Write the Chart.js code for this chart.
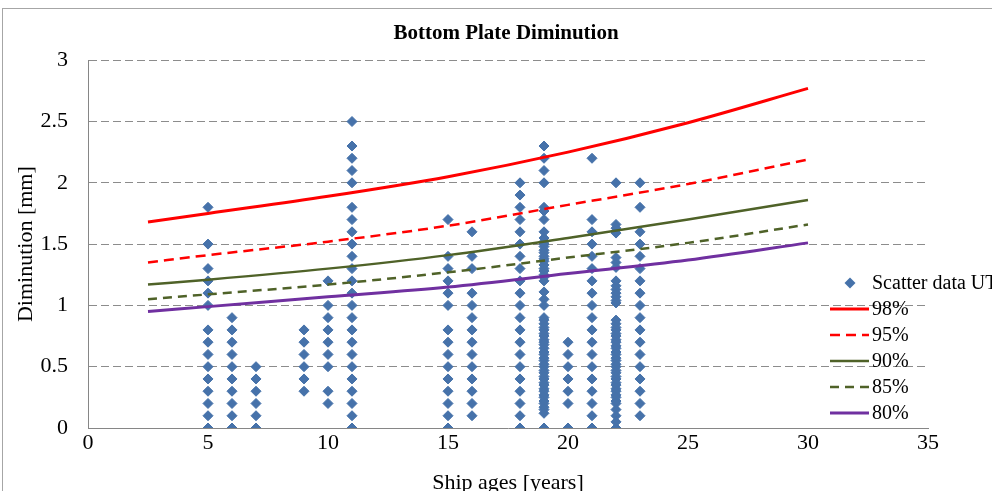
<!DOCTYPE html>
<html>
<head>
<meta charset="utf-8">
<script src="https://cdn.jsdelivr.net/npm/chart.js@4.4.1/dist/chart.umd.min.js"></script>
<style>
	html, body { margin: 0; padding: 0; background: #fff; overflow: hidden; }
	#wrap { position: relative; width: 1012px; height: 505px; }
</style>
</head>
<body>
<div id="wrap"><canvas id="chart" width="1012" height="505"></canvas></div>
<script>
// measured UT values per ship age (mm)
const scatterAges = [5, 6, 7, 9, 10, 11, 15, 16, 18, 19, 20, 21, 22, 23];
const scatterValues = [
	[1.8, 1.5, 1.3, 1.2, 1.1, 1.0, 0.8, 0.7, 0.6, 0.5, 0.4, 0.3, 0.2, 0.1, 0],
	[0.9, 0.8, 0.7, 0.6, 0.5, 0.4, 0.3, 0.2, 0.1, 0],
	[0.5, 0.4, 0.3, 0.2, 0.1, 0],
	[0.8, 0.7, 0.6, 0.5, 0.4, 0.3],
	[1.2, 1.0, 0.9, 0.8, 0.7, 0.6, 0.5, 0.3, 0.2],
	[2.5, 2.3, 2.2, 2.1, 2.0, 1.8, 1.7, 1.6, 1.5, 1.4, 1.3, 1.2, 1.1, 1.0, 0.9, 0.8, 0.7, 0.6, 0.5, 0.4, 0.3, 0.2, 0.1, 0],
	[1.7, 1.4, 1.3, 1.2, 1.1, 1.0, 0.8, 0.7, 0.6, 0.5, 0.4, 0.3, 0.2, 0.1, 0],
	[1.6, 1.4, 1.3, 1.1, 1.0, 0.9, 0.8, 0.7, 0.6, 0.5, 0.4, 0.3, 0.2, 0.1],
	[2.0, 1.9, 1.8, 1.7, 1.6, 1.5, 1.4, 1.3, 1.2, 1.1, 1.0, 0.9, 0.8, 0.7, 0.6, 0.5, 0.4, 0.3, 0.2, 0.1, 0],
	[2.3, 2.2, 2.1, 2.0, 1.8, 1.77, 1.7, 1.6, 1.55, 1.52, 1.5, 1.48, 1.45, 1.43, 1.4, 1.38, 1.36, 1.33, 1.3, 1.28, 1.25, 1.23, 1.2, 1.11, 1.05, 1.0,
		0.9, 0.88, 0.85, 0.82, 0.8, 0.77, 0.75, 0.72, 0.7, 0.68, 0.65, 0.62, 0.6, 0.57, 0.55, 0.52, 0.5, 0.47, 0.45, 0.42, 0.4, 0.37, 0.35,
		0.32, 0.3, 0.27, 0.25, 0.22, 0.2, 0.17, 0.15, 0.12, 0],
	[0.7, 0.6, 0.5, 0.4, 0.3, 0.2, 0],
	[2.2, 1.7, 1.6, 1.5, 1.4, 1.3, 1.2, 1.1, 1.0, 0.9, 0.8, 0.7, 0.6, 0.5, 0.4, 0.3, 0.2, 0.1, 0],
	[2.0, 1.66, 1.63, 1.59, 1.39, 1.35, 1.31, 1.2, 1.16, 1.13, 1.1, 1.07, 1.04, 1.02, 0.88, 0.85, 0.82, 0.8, 0.77, 0.75, 0.72, 0.7, 0.67,
		0.65, 0.62, 0.6, 0.57, 0.55, 0.52, 0.5, 0.47, 0.45, 0.42, 0.4, 0.37, 0.35, 0.32, 0.3, 0.27, 0.25, 0.22, 0.2, 0.15, 0.1, 0.05, 0],
	[2.0, 1.8, 1.6, 1.5, 1.4, 1.3, 1.2, 1.1, 1.0, 0.9, 0.8, 0.7, 0.6, 0.5, 0.4, 0.3, 0.2, 0.1],
];

const curveAges = [2.5, 5, 10, 15, 20, 25, 30];
const p98 = [1.68, 1.75, 1.89, 2.05, 2.25, 2.49, 2.77];
const p95 = [1.35, 1.41, 1.52, 1.65, 1.82, 1.99, 2.19];
const p90 = [1.17, 1.21, 1.30, 1.41, 1.55, 1.70, 1.86];
const p85 = [1.05, 1.09, 1.17, 1.27, 1.39, 1.51, 1.66];
const p80 = [0.95, 0.99, 1.07, 1.15, 1.26, 1.37, 1.51];

const yTickLabels = ['0', '0.5', '1', '1.5', '2', '2.5', '3'];
const xTickLabels = ['0', '5', '10', '15', '20', '25', '30', '35'];

const FONT = 'Liberation Serif';

const scatterPoints = [];
scatterAges.forEach((age, i) => {
	scatterValues[i].forEach(v => scatterPoints.push({x: age, y: v}));
});

function curve(label, values, color, width, dash) {
	return {
		label: label,
		data: curveAges.map((a, i) => ({x: a, y: values[i]})),
		showLine: true,
		borderColor: color,
		backgroundColor: color,
		borderWidth: width,
		borderDash: dash,
		pointRadius: 0,
		cubicInterpolationMode: 'monotone',
		order: 0,
	};
}

// frame + legend drawn by hand, legend sits over the right part of the plot
const framePlugin = {
	id: 'frame',
	beforeDraw(chart) {
		const ctx = chart.ctx;
		ctx.save();
		ctx.fillStyle = '#fff';
		ctx.fillRect(0, 0, chart.width, chart.height);
		ctx.strokeStyle = '#a6a6a6';
		ctx.lineWidth = 1;
		ctx.strokeRect(2.5, 8.5, 1100, 600);
		ctx.restore();
	},
	afterDraw(chart) {
		const ctx = chart.ctx;
		const top = 283;
		const step = 26;
		ctx.save();
		ctx.font = '20px "' + FONT + '"';
		ctx.textBaseline = 'middle';
		chart.data.datasets.forEach((ds, i) => {
			const y = top + i * step;
			if (ds.showLine) {
				ctx.strokeStyle = ds.borderColor;
				ctx.lineWidth = ds.borderWidth;
				ctx.setLineDash(ds.borderDash || []);
				ctx.beginPath();
				ctx.moveTo(830, y);
				ctx.lineTo(869, y);
				ctx.stroke();
				ctx.setLineDash([]);
			} else {
				ctx.fillStyle = ds.backgroundColor;
				ctx.beginPath();
				ctx.moveTo(844.5, y);
				ctx.lineTo(850, y - 5.5);
				ctx.lineTo(855.5, y);
				ctx.lineTo(850, y + 5.5);
				ctx.closePath();
				ctx.fill();
			}
			ctx.fillStyle = '#000';
			ctx.fillText(ds.label, 872, y + 1);
		});
		ctx.restore();
	},
};

new Chart(document.getElementById('chart'), {
	type: 'scatter',
	data: {
		datasets: [
			{
				label: 'Scatter data UT',
				data: scatterPoints,
				backgroundColor: '#4672AA',
				borderColor: '#4672AA',
				pointStyle: 'rectRot',
				pointRadius: 5,
				pointBorderWidth: 1,
				order: 1,
			},
			curve('98%', p98, '#FF0000', 3, []),
			curve('95%', p95, '#FF0000', 2.5, [10, 6]),
			curve('90%', p90, '#4F6228', 2.5, []),
			curve('85%', p85, '#4F6228', 2.5, [9, 6]),
			curve('80%', p80, '#7030A0', 3, []),
		],
	},
	options: {
		responsive: false,
		animation: false,
		devicePixelRatio: 1,
		layout: {padding: 0},
		plugins: {
			legend: {display: false},
			tooltip: {enabled: false},
			title: {
				display: true,
				text: 'Bottom Plate Diminution',
				color: '#000',
				font: {family: FONT, size: 21, weight: 'bold', lineHeight: 1.2},
				padding: {top: 21, bottom: 14},
			},
		},
		scales: {
			x: {
				type: 'linear',
				min: 0,
				max: 35,
				grid: {display: false, drawTicks: false},
				border: {display: true, color: '#868686', width: 1},
				ticks: {
					stepSize: 5,
					color: '#000',
					padding: 2,
					font: {family: FONT, size: 22},
					callback: (v, i) => xTickLabels[i],
				},
				title: {
					display: true,
					text: 'Ship ages [years]',
					color: '#000',
					font: {family: FONT, size: 22, lineHeight: 1.2},
					padding: {top: 0, bottom: 9},
				},
				afterFit(s) { s.height = 77; },
			},
			y: {
				min: 0,
				max: 3,
				grid: {color: '#8c8c8c', lineWidth: 1, drawTicks: false},
				border: {display: true, color: '#868686', width: 1, dash: [8, 4]},
				ticks: {
					stepSize: 0.5,
					color: '#000',
					padding: 20,
					font: {family: FONT, size: 22},
					callback: (v, i) => yTickLabels[i],
				},
				title: {
					display: true,
					text: 'Diminution [mm]',
					color: '#000',
					font: {family: FONT, size: 22, lineHeight: 1.2},
					padding: {top: 13, bottom: 0},
				},
				afterFit(s) { s.width = 88; },
			},
			// empty right-hand axis, keeps the plot at the reference width
			yr: {
				position: 'right',
				min: 0,
				max: 3,
				grid: {display: false, drawTicks: false},
				border: {display: false},
				ticks: {display: false},
				afterFit(s) { s.width = 84; },
			},
		},
	},
	plugins: [framePlugin],
});
</script>
</body>
</html>
